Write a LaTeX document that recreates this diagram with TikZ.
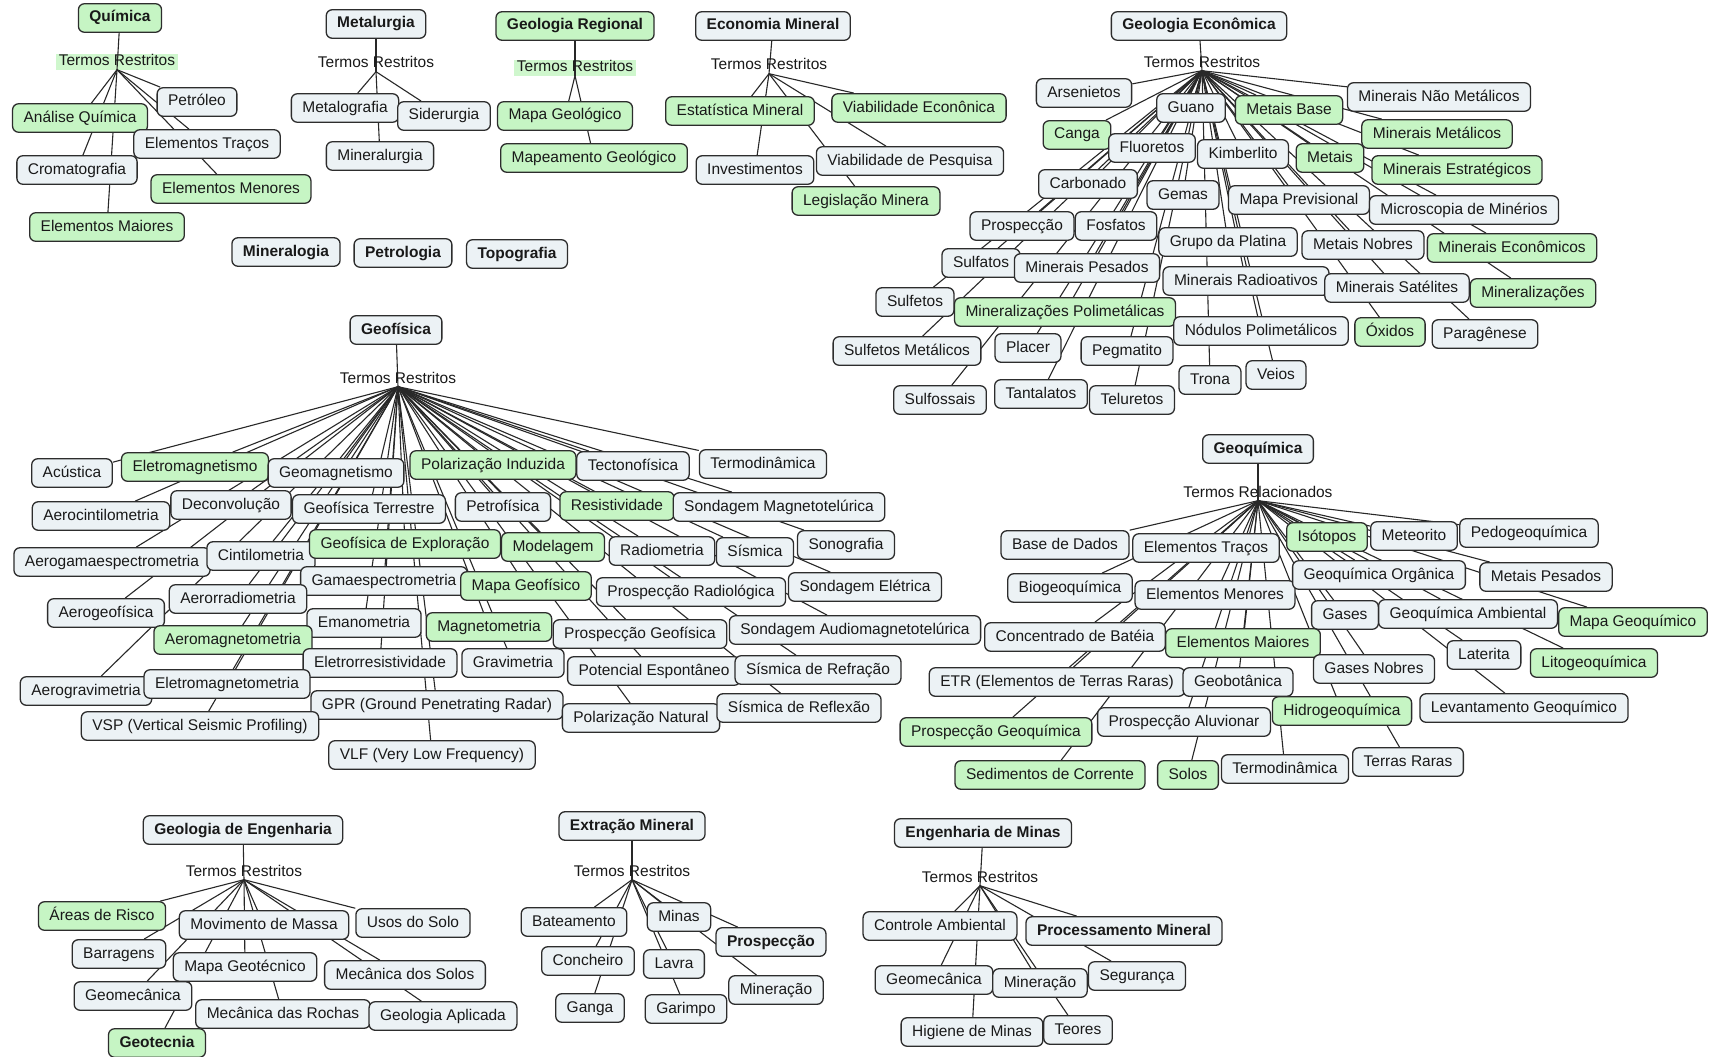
\documentclass[tikz,border=0pt]{standalone}
\usepackage{fontspec}
\setmainfont{Liberation Sans}
\usetikzlibrary{backgrounds}
\pgfdeclarelayer{hilite}
\pgfdeclarelayer{edges}
\pgfsetlayers{hilite,edges,main}
\definecolor{gfill}{RGB}{198,245,196}
\definecolor{nfill}{RGB}{236,242,245}
\definecolor{bord}{RGB}{45,45,45}
\definecolor{linec}{RGB}{40,40,40}
\definecolor{txt}{RGB}{25,25,25}
\newcommand\cmfont{\fontsize{15.5pt}{18pt}\selectfont}
\tikzset{
  box/.style={draw=bord, line width=1.3pt, rounded corners=6pt, font=\cmfont, text=txt,
    inner xsep=11pt, inner ysep=0pt, minimum height=28.5pt, text height=11.5pt, text depth=3.5pt},
  nb/.style={box, fill=nfill},
  gb/.style={box, fill=gfill},
  hd/.style={nb, font=\cmfont\bfseries},
  hdg/.style={gb, font=\cmfont\bfseries},
  lbl/.style={font=\cmfont, text=txt, inner sep=0pt, text height=11.5pt, text depth=3.5pt},
  link/.style={draw=linec, line width=1.1pt},
}
% a concept with its connector from the linking phrase
\newcommand\fan[2]{%
  \foreach \nm/\x/\y/\sty/\lab in {#2}{%
    \node[\sty] (\nm) at (\x,\y) {\lab};
    \begin{pgfonlayer}{edges}\draw[link] (#1.south) -- (\nm);\end{pgfonlayer}
  }}
\newcommand\stem[2]{\begin{pgfonlayer}{edges}\draw[link] (#1) -- (#2.south);\end{pgfonlayer}}
\newcommand\hilite[1]{\begin{pgfonlayer}{hilite}\fill[gfill!85!white] ([xshift=-3pt]#1.south west) rectangle ([xshift=3pt]#1.north east);\end{pgfonlayer}}

\begin{document}
\begin{tikzpicture}[x=1pt,y=-1pt]
\begin{pgfonlayer}{hilite}
\fill[white] (0,0) rectangle (1709,1057);
\end{pgfonlayer}
\useasboundingbox (0,0) rectangle (1709,1057);

% Química
\node[hdg] (qui) at (120,18) {Química};
\node[lbl] (trq) at (117,62) {Termos Restritos};
\hilite{trq}
\stem{qui}{trq}
\fan{trq}{qpet/197/102/nb/Petróleo, qaq/80/118/gb/Análise Química, qet/207/144/nb/Elementos Traços,
  qcr/77/170/nb/Cromatografia, qeme/231/189/gb/Elementos Menores, qema/107/227/gb/Elementos Maiores}

% Metalurgia
\node[hd] (met) at (376,24) {Metalurgia};
\node[lbl] (trm) at (376,64) {Termos Restritos};
\stem{met}{trm}
\fan{trm}{mgr/345/108/nb/Metalografia, msid/444/116/nb/Siderurgia, mmin/380/156/nb/Mineralurgia}

% isolated concepts
\node[hd] (mnl) at (286,252) {Mineralogia};
\node[hd] (ptr) at (403,253) {Petrologia};
\node[hd] (top) at (517,254) {Topografia};

% Geologia Regional
\node[hdg] (gr) at (575,26) {Geologia Regional};
\node[lbl] (trg) at (575,68) {Termos Restritos};
\hilite{trg}
\stem{gr}{trg}
\fan{trg}{grmg/565/116/gb/Mapa Geológico, grmp/594/158/gb/Mapeamento Geológico}

% Economia Mineral
\node[hd] (em) at (773,26) {Economia Mineral};
\node[lbl] (tre) at (769,66) {Termos Restritos};
\stem{em}{tre}
\fan{tre}{emest/740/111/gb/Estatística Mineral, emve/919/108/gb/Viabilidade Econônica,
  eminv/755/170/nb/Investimentos, emvp/910/161/nb/Viabilidade de Pesquisa, emleg/866/201/gb/Legislação Minera}

% Geologia Econômica
\node[hd] (ge) at (1199,26) {Geologia Econômica};
\node[lbl] (trge) at (1202,63) {Termos Restritos};
\stem{ge}{trge}
\fan{trge}{
  ge1/1084/93/nb/Arsenietos, ge2/1077/135/gb/Canga, ge3/1191/108/nb/Guano, ge4/1152/148/nb/Fluoretos,
  ge5/1289/110/gb/Metais Base, ge6/1439/97/nb/Minerais Não Metálicos, ge7/1437/134/gb/Minerais Metálicos,
  ge8/1243/154/nb/Kimberlito, ge9/1330/158/gb/Metais, ge10/1457/170/gb/Minerais Estratégicos,
  ge11/1088/184/nb/Carbonado, ge12/1183/195/nb/Gemas, ge13/1299/200/nb/Mapa Previsional,
  ge14/1464/210/nb/Microscopia de Minérios, ge15/1022/226/nb/Prospecção, ge16/1116/226/nb/Fosfatos,
  ge17/1228/242/nb/Grupo da Platina, ge18/1363/245/nb/Metais Nobres, ge19/1512/248/gb/Minerais Econômicos,
  ge20/981/263/nb/Sulfatos, ge21/1087/268/nb/Minerais Pesados, ge22/1246/281/nb/Minerais Radioativos,
  ge23/1397/288/nb/Minerais Satélites, ge24/1533/293/gb/Mineralizações, ge25/915/302/nb/Sulfetos,
  ge26/1065/312/gb/Mineralizações Polimetálicas, ge27/1261/331/nb/Nódulos Polimetálicos,
  ge28/1390/332/gb/Óxidos, ge29/1485/334/nb/Paragênese, ge30/907/351/nb/Sulfetos Metálicos,
  ge31/1028/348/nb/Placer, ge32/1127/351/nb/Pegmatito, ge33/1210/380/nb/Trona, ge34/1276/375/nb/Veios,
  ge35/940/400/nb/Sulfossais, ge36/1041/394/nb/Tantalatos, ge37/1132/400/nb/Teluretos}

% Geofísica
\node[hd] (gf) at (396,330) {Geofísica};
\node[lbl] (trgf) at (398,379) {Termos Restritos};
\stem{gf}{trgf}
\fan{trgf}{
  gf1/72/473/nb/Acústica, gf2/195/467/gb/Eletromagnetismo, gf3/336/473/nb/Geomagnetismo,
  gf4/493/465/gb/Polarização Induzida, gf5/633/466/nb/Tectonofísica, gf6/763/464/nb/Termodinâmica,
  gf7/101/516/nb/Aerocintilometria, gf8/231/505/nb/Deconvolução, gf9/369/509/nb/Geofísica Terrestre,
  gf10/503/507/nb/Petrofísica, gf11/617/506/gb/Resistividade, gf12/779/507/nb/Sondagem Magnetotelúrica,
  gf13/112/562/nb/Aerogamaespectrometria, gf14/261/556/nb/Cintilometria, gf15/405/544/gb/Geofísica de Exploração,
  gf16/553/547/gb/Modelagem, gf17/662/551/nb/Radiometria, gf18/755/552/nb/Sísmica, gf19/846/545/nb/Sonografia,
  gf20/384/581/nb/Gamaespectrometria, gf21/526/586/gb/Mapa Geofísico, gf22/691/592/nb/Prospecção Radiológica,
  gf23/865/587/nb/Sondagem Elétrica, gf24/106/613/nb/Aerogeofísica, gf25/238/599/nb/Aerorradiometria,
  gf26/364/623/nb/Emanometria, gf27/489/627/gb/Magnetometria, gf28/640/634/nb/Prospecção Geofísica,
  gf29/855/630/nb/Sondagem Audiomagnetotelúrica, gf30/233/640/gb/Aeromagnetometria,
  gf31/380/663/nb/Eletrorresistividade, gf32/513/663/nb/Gravimetria, gf33/654/671/nb/Potencial Espontâneo,
  gf34/818/670/nb/Sísmica de Refração, gf35/86/691/nb/Aerogravimetria, gf36/227/684/nb/Eletromagnetometria,
  gf37/437/705/nb/GPR (Ground Penetrating Radar), gf38/641/718/nb/Polarização Natural,
  gf39/799/708/nb/Sísmica de Reflexão, gf40/200/726/nb/VSP (Vertical Seismic Profiling),
  gf41/432/755/nb/VLF (Very Low Frequency)}

% Geoquímica
\node[hd] (gq) at (1258,449) {Geoquímica};
\node[lbl] (trgq) at (1258,493) {Termos Relacionados};
\stem{gq}{trgq}
\fan{trgq}{
  gq1/1065/545/nb/Base de Dados, gq2/1206/548/nb/Elementos Traços, gq3/1327/537/gb/Isótopos,
  gq4/1414/536/nb/Meteorito, gq5/1529/533/nb/Pedogeoquímica, gq6/1070/588/nb/Biogeoquímica,
  gq7/1215/595/nb/Elementos Menores, gq8/1379/575/nb/Geoquímica Orgânica, gq9/1546/577/nb/Metais Pesados,
  gq10/1075/637/nb/Concentrado de Batéia, gq11/1345/615/nb/Gases, gq12/1468/614/nb/Geoquímica Ambiental,
  gq13/1633/622/gb/Mapa Geoquímico, gq14/1243/643/gb/Elementos Maiores, gq15/1484/655/nb/Laterita,
  gq16/1594/663/gb/Litogeoquímica, gq17/1057/682/nb/ETR (Elementos de Terras Raras),
  gq18/1238/682/nb/Geobotânica, gq19/1374/669/nb/Gases Nobres, gq20/1342/711/gb/Hidrogeoquímica,
  gq21/1524/708/nb/Levantamento Geoquímico, gq22/996/732/gb/Prospecção Geoquímica,
  gq23/1184/722/nb/Prospecção Aluvionar, gq24/1050/775/gb/Sedimentos de Corrente, gq25/1188/775/gb/Solos,
  gq26/1285/769/nb/Termodinâmica, gq27/1408/762/nb/Terras Raras}

% Geologia de Engenharia
\node[hd] (geng) at (243,830) {Geologia de Engenharia};
\node[lbl] (trgen) at (244,872) {Termos Restritos};
\stem{geng}{trgen}
\fan{trgen}{
  gn1/102/916/gb/Áreas de Risco, gn2/264/925/nb/Movimento de Massa, gn3/413/923/nb/Usos do Solo,
  gn4/119/954/nb/Barragens, gn5/245/967/nb/Mapa Geotécnico, gn6/405/975/nb/Mecânica dos Solos,
  gn7/133/996/nb/Geomecânica, gn8/283/1014/nb/Mecânica das Rochas, gn9/443/1016/nb/Geologia Aplicada,
  gn10/157/1043/hdg/Geotecnia}

% Extração Mineral
\node[hd] (ext) at (632,826) {Extração Mineral};
\node[lbl] (trex) at (632,872) {Termos Restritos};
\stem{ext}{trex}
\fan{trex}{
  ex1/574/922/nb/Bateamento, ex2/679/917/nb/Minas, ex3/771/942/hd/Prospecção, ex4/588/961/nb/Concheiro,
  ex5/674/964/nb/Lavra, ex6/776/990/nb/Mineração, ex7/590/1008/nb/Ganga, ex8/686/1009/nb/Garimpo}

% Engenharia de Minas
\node[hd] (eng) at (983,833) {Engenharia de Minas};
\node[lbl] (tren) at (980,878) {Termos Restritos};
\stem{eng}{tren}
\fan{tren}{
  en1/940/926/nb/Controle Ambiental, en2/1124/931/hd/Processamento Mineral, en3/934/980/nb/Geomecânica,
  en4/1040/983/nb/Mineração, en5/1137/976/nb/Segurança, en6/972/1032/nb/Higiene de Minas,
  en7/1078/1030/nb/Teores}
\end{tikzpicture}
\end{document}
